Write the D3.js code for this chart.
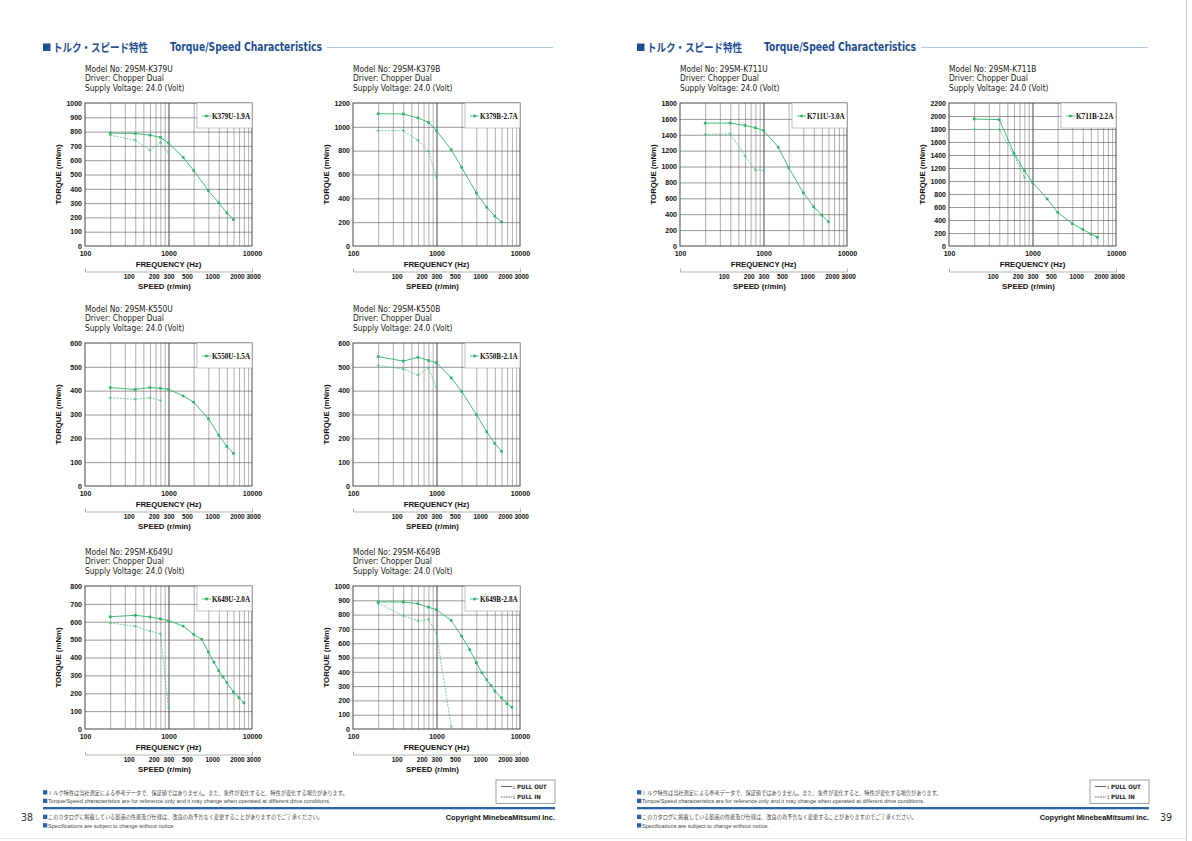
<!DOCTYPE html>
<html><head><meta charset="utf-8">
<script src="https://cdn.jsdelivr.net/npm/d3@7"></script>
<style>html,body{margin:0;padding:0;background:#fff;} svg{display:block}</style>
</head><body><svg id="c" width="1192" height="841"></svg>
<script>
// ---------------- DATA ----------------
const freqStd = [200, 400, 600, 800, 1000, 1500, 2000, 3000, 4000, 5000, 6000];
const freqFine = [200, 400, 600, 800, 1000, 1500, 2000, 2500, 3000, 3500, 4000, 4500, 5000, 6000, 7000, 8000];
const freqPullIn5 = [200, 400, 600, 800, 1000];
const freqPullIn4 = [200, 400, 600, 800];
const freqPullIn6 = [200, 400, 600, 800, 1000, 1500];

const k379uPullOut = [790, 787, 775, 760, 720, 620, 528, 388, 302, 232, 185];
const k379uPullIn  = [775, 740, 670, 723, 650];
const k379bPullOut = [1110, 1108, 1075, 1038, 968, 808, 660, 445, 325, 250, 203];
const k379bPullIn  = [968, 968, 887, 795, 573];
const k711uPullOut = [1547, 1547, 1518, 1488, 1454, 1244, 986, 670, 493, 388, 305];
const k711uPullIn  = [1404, 1412, 1134, 957, 949];
const k711bPullOut = [1954, 1944, 1426, 1159, 979, 723, 518, 344, 256, 185, 133];
const k711bPullIn  = [1795, 1790, 1400, 1056];
const k550uPullOut = [413, 405, 413, 410, 406, 378, 352, 283, 213, 166, 137];
const k550uPullIn  = [370, 364, 370, 359];
const k550bPullOut = [543, 524, 540, 527, 517, 454, 397, 300, 227, 178, 146];
const k550bPullIn  = [505, 491, 465, 496, 414];
const k649uPullOut = [628, 636, 627, 616, 606, 576, 530, 502, 431, 373, 326, 291, 259, 207, 175, 146];
const k649uPullIn  = [593, 575, 548, 532, 119];
const k649bPullOut = [888, 888, 876, 852, 834, 759, 649, 555, 464, 393, 344, 304, 265, 218, 176, 152];
const k649bPullIn  = [880, 792, 756, 766, 667, 16];

const freqTickLabels = [100, 1000, 10000];
const speedTickLabels = [100, 200, 300, 500, 1000, 2000, 3000];

const models = ["29SM-K379U", "29SM-K379B", "29SM-K711U", "29SM-K711B", "29SM-K550U", "29SM-K550B", "29SM-K649U", "29SM-K649B"];
const legendLabels = ["K379U-1.9A", "K379B-2.7A", "K711U-3.0A", "K711B-2.2A", "K550U-1.5A", "K550B-2.1A", "K649U-2.0A", "K649B-2.8A"];
const yMaxes = [1000, 1200, 1800, 2200, 600, 600, 800, 1000];
const ySteps = [100, 200, 200, 200, 100, 100, 100, 100];

const headerJa = "トルク・スピード特性";
const headerEn = "Torque/Speed Characteristics";
const noteJa1 = "トルク特性は当社測定による参考データで、保証値ではありません。また、条件が変化すると、特性が変化する場合があります。";
const noteEn1 = "Torque/Speed characteristics are for reference only and it may change when operated at different drive conditions.";
const noteJa2 = "このカタログに掲載している製品の性能及び仕様は、改良の為予告なく変更することがありますのでご了承ください。";
const noteEn2 = "Specifications are subject to change without notice.";
const copyright = "Copyright MinebeaMitsumi Inc.";
const pageNumbers = ["38", "39"];

// chart table built from the arrays above
const charts = [
  {i:0, col:0, row:0, poF:freqStd,  po:k379uPullOut, piF:freqPullIn5, pi:k379uPullIn},
  {i:1, col:1, row:0, poF:freqStd,  po:k379bPullOut, piF:freqPullIn5, pi:k379bPullIn},
  {i:2, col:2, row:0, poF:freqStd,  po:k711uPullOut, piF:freqPullIn5, pi:k711uPullIn},
  {i:3, col:3, row:0, poF:freqStd,  po:k711bPullOut, piF:freqPullIn4, pi:k711bPullIn},
  {i:4, col:0, row:1, poF:freqStd,  po:k550uPullOut, piF:freqPullIn4, pi:k550uPullIn},
  {i:5, col:1, row:1, poF:freqStd,  po:k550bPullOut, piF:freqPullIn5, pi:k550bPullIn},
  {i:6, col:0, row:2, poF:freqFine, po:k649uPullOut, piF:freqPullIn5, pi:k649uPullIn},
  {i:7, col:1, row:2, poF:freqFine, po:k649bPullOut, piF:freqPullIn6, pi:k649bPullIn}
];

// ---------------- LAYOUT / STYLE ----------------
const colX = [85, 353, 680, 949];
const rowY = [103, 343, 586];
const PW = 167, PH = 143;
const NARROW = "'Liberation Sans Narrow','Arial Narrow','DejaVu Sans Condensed',sans-serif";
const SANS = "'Liberation Sans',Arial,sans-serif";
const SERIF = "'Liberation Serif','Times New Roman',serif";
const CJK = "'Noto Sans CJK JP',sans-serif";
const BLUE = "#1f4f92";
const GREEN = "#2fb46a";
const GREEN2 = "#4cc481";

const svg = d3.select("#c");
svg.append("rect").attr("width",1192).attr("height",841).attr("fill","#fff");
// page edges
svg.append("line").attr("x1",1186.5).attr("x2",1186.5).attr("y1",0).attr("y2",841).attr("stroke","#d0d0d0");
svg.append("line").attr("x1",0).attr("x2",1187).attr("y1",838.5).attr("y2",838.5).attr("stroke","#e2e2e2").attr("stroke-width",1);

function header(x0, lineEnd, enX) {
  svg.append("rect").attr("x",x0).attr("y",43.5).attr("width",7.5).attr("height",7.5).attr("fill",BLUE);
  svg.append("text").attr("x",x0+10).attr("y",51.5).text(headerJa)
    .attr("font-family",CJK).attr("font-weight",700).attr("font-size",11.5).attr("fill",BLUE)
    .attr("textLength",95).attr("lengthAdjust","spacingAndGlyphs");
  svg.append("text").attr("x",x0+127).attr("y",51).text(headerEn)
    .attr("font-family",NARROW).attr("font-weight",700).attr("font-size",12.5).attr("fill",BLUE)
    .attr("textLength",152).attr("lengthAdjust","spacingAndGlyphs");
  svg.append("line").attr("x1",enX).attr("x2",lineEnd).attr("y1",47.5).attr("y2",47.5)
    .attr("stroke","#a9c4e4").attr("stroke-width",0.9);
}
header(43, 553, 327);
header(637, 1148, 921);

function isDecade(d) { return Math.abs(Math.log10(d) - Math.round(Math.log10(d))) < 1e-6; }

function drawChart(c) {
  const L = colX[c.col], T = rowY[c.row], R = L + PW, B = T + PH;
  const x = d3.scaleLog().domain([100, 10000]).range([L, R]);
  const speed = d3.scaleLog().domain([30, 3000]).range([L, R]);
  const y = d3.scaleLinear().domain([0, yMaxes[c.i]]).range([B, T]);
  const g = svg.append("g");

  // model info
  ["Model No: " + models[c.i], "Driver: Chopper Dual", "Supply Voltage: 24.0 (Volt)"].forEach((t, k) => {
    g.append("text").attr("x", L).attr("y", T - 31.5 + k * 9.6).text(t)
      .attr("font-family", NARROW).attr("font-size", 8.3).attr("fill", "#222");
  });

  // vertical grid
  const minor = x.ticks().filter(v => v > 100 && v < 10000);
  const vg = g.append("g").attr("transform", `translate(0,${B})`)
    .call(d3.axisBottom(x).tickValues(minor).tickSize(-PH).tickFormat(""));
  vg.select(".domain").remove();
  vg.selectAll("line").attr("stroke", d => isDecade(d) ? "#333" : "#7a7a7a")
    .attr("stroke-width", d => isDecade(d) ? 0.9 : 0.6);

  // horizontal grid
  const yt = d3.range(0, yMaxes[c.i] + 1, ySteps[c.i]);
  const hg = g.append("g").attr("transform", `translate(${L},0)`)
    .call(d3.axisLeft(y).tickValues(yt.filter(v => v > 0 && v < yMaxes[c.i])).tickSize(-PW).tickFormat(""));
  hg.select(".domain").remove();
  hg.selectAll("line").attr("stroke", "#555").attr("stroke-width", 0.6);

  // frame
  g.append("rect").attr("x", L).attr("y", T).attr("width", PW).attr("height", PH)
    .attr("fill", "none").attr("stroke", "#333").attr("stroke-width", 0.9);

  // y labels
  const ya = g.append("g").attr("transform", `translate(${L},0)`)
    .call(d3.axisLeft(y).tickValues(yt).tickSize(0).tickPadding(3).tickFormat(d3.format("d")));
  ya.select(".domain").remove();
  ya.selectAll("text").attr("font-family", SANS).attr("font-weight", 700).attr("font-size", 7.0).attr("fill", "#111");

  // x labels
  const xa = g.append("g").attr("transform", `translate(0,${B})`)
    .call(d3.axisBottom(x).tickValues(freqTickLabels).tickSize(0).tickFormat(d3.format("d")));
  xa.select(".domain").remove();
  xa.selectAll("text").attr("y", 7.8).attr("dy", "0.35em")
    .attr("font-family", SANS).attr("font-weight", 700).attr("font-size", 7.0).attr("fill", "#111");

  g.append("text").attr("x", (L + R) / 2).attr("y", B + 21).attr("text-anchor", "middle").text("FREQUENCY (Hz)")
    .attr("font-family", SANS).attr("font-weight", 700).attr("font-size", 7.8).attr("fill", "#111");

  // speed axis
  const sa = g.append("g").attr("transform", `translate(0,${B + 25.5})`)
    .call(d3.axisBottom(speed).tickValues(speedTickLabels).tickSizeInner(0).tickSizeOuter(-3).tickFormat(d3.format("d")));
  sa.select(".domain").attr("stroke", "#888").attr("stroke-width", 0.6);
  sa.selectAll("text").attr("y", 5.6).attr("dy", "0.35em")
    .attr("dx", d => d === 3000 ? 1.2 : (d === 2000 ? -0.4 : 0))
    .attr("font-family", SANS).attr("font-weight", 700).attr("font-size", 6.5).attr("fill", "#111");
  g.append("text").attr("x", (L + R) / 2 - 4).attr("y", B + 43).attr("text-anchor", "middle").text("SPEED (r/min)")
    .attr("font-family", SANS).attr("font-weight", 700).attr("font-size", 7.8).attr("fill", "#111");

  // y title
  g.append("text").attr("transform", `translate(${L - 24},${(T + B) / 2}) rotate(-90)`)
    .attr("text-anchor", "middle").text("TORQUE (mNm)")
    .attr("font-family", SANS).attr("font-weight", 700).attr("font-size", 7.8).attr("fill", "#111");

  // legend box
  const lw = 55, lh = 25;
  g.append("rect").attr("x", R - lw).attr("y", T).attr("width", lw).attr("height", lh)
    .attr("fill", "#fff").attr("stroke", "#aaa").attr("stroke-width", 0.7);
  g.append("line").attr("x1", R - 50).attr("x2", R - 41).attr("y1", T + 13).attr("y2", T + 13)
    .attr("stroke", GREEN).attr("stroke-width", 0.8);
  g.append("rect").attr("x", R - 46.7).attr("y", T + 11.7).attr("width", 2.6).attr("height", 2.6).attr("fill", GREEN);
  g.append("text").attr("x", R - 40).attr("y", T + 15.5).text(legendLabels[c.i])
    .attr("font-family", SERIF).attr("font-weight", 700).attr("font-size", 7.2).attr("fill", "#111");

  // curves
  const line = d3.line().x(d => x(d[0])).y(d => y(d[1]));
  const po = c.poF.map((f, k) => [f, c.po[k]]);
  const pi = c.piF.map((f, k) => [f, c.pi[k]]);
  g.append("path").attr("d", line(pi)).attr("fill", "none").attr("stroke", GREEN2)
    .attr("stroke-width", 0.8).attr("stroke-dasharray", "2,1.3");
  g.append("path").attr("d", line(po)).attr("fill", "none").attr("stroke", GREEN).attr("stroke-width", 0.9);
  g.selectAll(".pim").data(pi).enter().append("path")
    .attr("d", d => `M${x(d[0]) - 1.5},${y(d[1])}h3M${x(d[0])},${y(d[1]) - 1.5}v3`)
    .attr("stroke", GREEN2).attr("stroke-width", 0.8);
  g.selectAll(".pom").data(po).enter().append("rect")
    .attr("x", d => x(d[0]) - 1.3).attr("y", d => y(d[1]) - 1.3).attr("width", 2.6).attr("height", 2.6)
    .attr("fill", GREEN);
}
charts.forEach(drawChart);

function footer(x0, x1, pageNo, pnX) {
  const note = (t, yy, fs, ja) => {
    svg.append("rect").attr("x", x0).attr("y", yy - 4.3).attr("width", 4.3).attr("height", 4.3).attr("fill", "#2a62a8");
    svg.append("text").attr("x", x0 + 5).attr("y", yy).text(t)
      .attr("font-family", ja ? CJK : SANS).attr("font-size", fs).attr("fill", "#444");
  };
  note(noteJa1, 794.5, 5.2, true);
  note(noteEn1, 803, 5.6, false);
  note(noteJa2, 819, 5.2, true);
  note(noteEn2, 827.5, 5.6, false);
  svg.append("rect").attr("x", x0).attr("y", 807).attr("width", x1 - x0).attr("height", 2).attr("fill", "#2b64a8");
  svg.append("rect").attr("x", x0).attr("y", 809).attr("width", x1 - x0).attr("height", 0.8).attr("fill", "#a8c2e2");
  svg.append("text").attr("x", x1).attr("y", 819.5).attr("text-anchor", "end").text(copyright)
    .attr("font-family", SANS).attr("font-weight", 700).attr("font-size", 7.4).attr("fill", "#111");
  svg.append("text").attr("x", pnX).attr("y", 821).text(pageNo)
    .attr("font-family", NARROW).attr("font-size", 10.5).attr("fill", "#333");
  // legend box
  const bx = x1 - 59, by = 780;
  svg.append("rect").attr("x", bx).attr("y", by).attr("width", 59).attr("height", 23.5)
    .attr("fill", "#fff").attr("stroke", "#888").attr("stroke-width", 0.8);
  svg.append("line").attr("x1", bx + 5).attr("x2", bx + 16).attr("y1", by + 6.5).attr("y2", by + 6.5).attr("stroke", "#222").attr("stroke-width", 0.7);
  svg.append("line").attr("x1", bx + 5).attr("x2", bx + 16).attr("y1", by + 17).attr("y2", by + 17).attr("stroke", "#222").attr("stroke-width", 0.7).attr("stroke-dasharray", "1.6,1");
  svg.append("text").attr("x", bx + 17).attr("y", by + 8.5).text(": PULL  OUT")
    .attr("font-family", NARROW).attr("font-weight", 700).attr("font-size", 6).attr("fill", "#222");
  svg.append("text").attr("x", bx + 17).attr("y", by + 19).text(": PULL  IN")
    .attr("font-family", NARROW).attr("font-weight", 700).attr("font-size", 6).attr("fill", "#222");
}
footer(43, 555, pageNumbers[0], 21);
footer(637, 1149, pageNumbers[1], 1160);
</script></body></html>
